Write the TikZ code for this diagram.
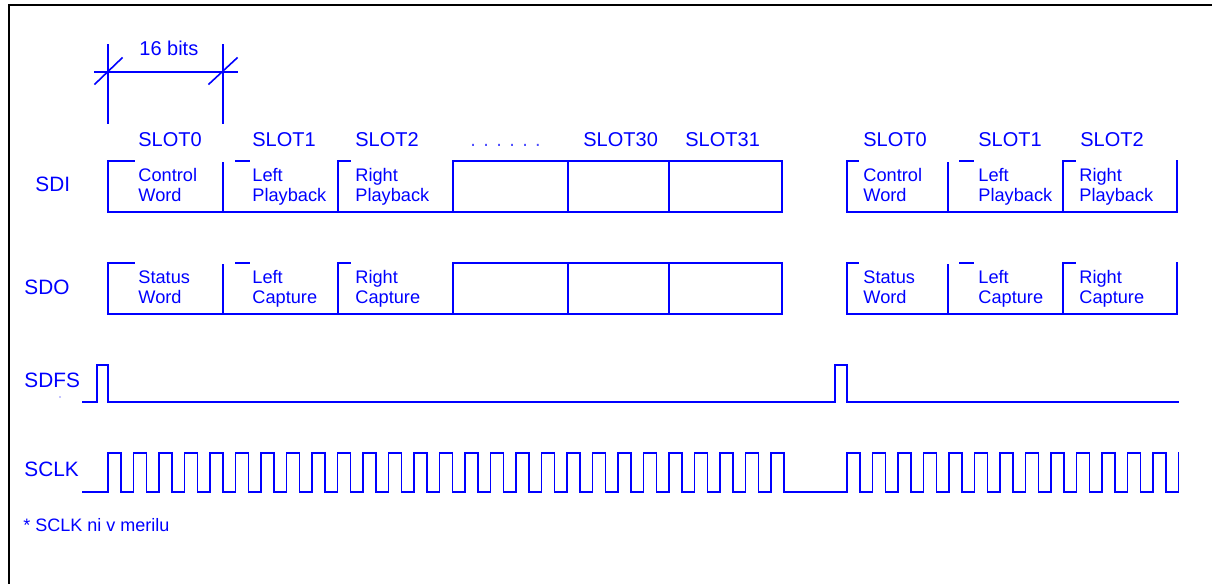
\documentclass[tikz,border=0pt]{standalone}
\usepackage{fontspec}
\setmainfont{Liberation Sans}
\definecolor{sig}{RGB}{0,0,255}
\begin{document}
\begin{tikzpicture}[x=0.5pt,y=-0.5pt,
  wire/.style={draw=sig, line width=0.8pt, line cap=rect},
  frame/.style={draw=black, line width=1pt},
  txt/.style={text=sig, inner sep=0pt, anchor=base west},
  rowlbl/.style={txt, font=\fontsize{10.4}{12}\selectfont},
  slotlbl/.style={txt, font=\fontsize{10}{12}\selectfont},
  boxtxt/.style={txt, font=\fontsize{9.1}{11}\selectfont},
  note/.style={txt, font=\fontsize{9}{11}\selectfont}]
\useasboundingbox (0,0) rectangle (1212,584);
% frame
\draw[frame] (9,584) -- (9,5) -- (1212,5);
% dimension 16 bits
\coordinate (dl) at (108,45);
\coordinate (dr) at (223,45);
\draw[wire] (dl) -- (108,123);
\draw[wire] (dr) -- (223,123);
\draw[wire] (95,72) -- (237,72);
\draw[wire] (95,84) -- (122,58);
\draw[wire] (209,84) -- (237,58);
\node[slotlbl] (bits) at (139,55) {16 bits};
% slot labels
\node[slotlbl] (s0) at (138,146) {SLOT0};
\node[slotlbl] (s1) at (252,146) {SLOT1};
\node[slotlbl] (s2) at (355,146) {SLOT2};
\node[slotlbl, text=sig!70] (sd) at (470,146) {. . . . . .};
\node[slotlbl] (s30) at (583,146) {SLOT30};
\node[slotlbl] (s31) at (685,146) {SLOT31};
\node[slotlbl] (t0) at (863,146) {SLOT0};
\node[slotlbl] (t1) at (978,146) {SLOT1};
\node[slotlbl] (t2) at (1080,146) {SLOT2};
% row labels
\node[rowlbl] (sdi) at (35,191) {SDI};
\node[rowlbl] (sdo) at (24,294) {SDO};
\node[rowlbl] (sdfs) at (24,387) {SDFS};
\node[rowlbl] (sclk) at (24,476) {SCLK};
\fill[sig] (60,397) circle (0.7);
\node[note] (fn) at (23,531) {* SCLK ni v merilu};
% frames SDI (top 161, bottom 212) and SDO (+102)
\foreach \dy/\nm in {0/i,102/o}{
  \begin{scope}[yshift=-\dy*0.5pt]
  \draw[wire] (134,161) -- (108,161) -- (108,212) -- (782,212);
  \draw[wire] (223,163) -- (223,212);
  \draw[wire] (236,161) -- (249,161);
  \draw[wire] (350,161) -- (338,161) -- (338,212);
  \draw[wire] (453,212) -- (453,161) -- (782,161) -- (782,212);
  \draw[wire] (568,161) -- (568,212);
  \draw[wire] (669,161) -- (669,212);
  \draw[wire] (858,161) -- (847,161) -- (847,212) -- (1177,212) -- (1177,161);
  \draw[wire] (948,163) -- (948,212);
  \draw[wire] (960,161) -- (973,161);
  \draw[wire] (1075,161) -- (1063,161) -- (1063,212);
  \end{scope}
}
% box texts SDI
\node[boxtxt] (a0) at (138,181) {Control};
\node[boxtxt] (a0b) at (138,201) {Word};
\node[boxtxt] (a1) at (252,181) {Left};
\node[boxtxt] (a1b) at (252,201) {Playback};
\node[boxtxt] (a2) at (355,181) {Right};
\node[boxtxt] (a2b) at (355,201) {Playback};
\node[boxtxt] (b0) at (863,181) {Control};
\node[boxtxt] (b0b) at (863,201) {Word};
\node[boxtxt] (b1) at (978,181) {Left};
\node[boxtxt] (b1b) at (978,201) {Playback};
\node[boxtxt] (b2) at (1079,181) {Right};
\node[boxtxt] (b2b) at (1079,201) {Playback};
% box texts SDO
\node[boxtxt] (c0) at (138,283) {Status};
\node[boxtxt] (c0b) at (138,303) {Word};
\node[boxtxt] (c1) at (252,283) {Left};
\node[boxtxt] (c1b) at (252,303) {Capture};
\node[boxtxt] (c2) at (355,283) {Right};
\node[boxtxt] (c2b) at (355,303) {Capture};
\node[boxtxt] (d0) at (863,283) {Status};
\node[boxtxt] (d0b) at (863,303) {Word};
\node[boxtxt] (d1) at (978,283) {Left};
\node[boxtxt] (d1b) at (978,303) {Capture};
\node[boxtxt] (d2) at (1079,283) {Right};
\node[boxtxt] (d2b) at (1079,303) {Capture};
% SDFS
\draw[wire] (83,402) -- (97,402) -- (97,365) -- (108,365) -- (108,402)
  -- (835,402) -- (835,365) -- (847,365) -- (847,402) -- (1178,402);
% SCLK
\draw[wire] (83,492)
  \foreach \k in {0,...,26} { -- ({108+25.5*\k},492) -- ({108+25.5*\k},453)
     -- ({121+25.5*\k},453) -- ({121+25.5*\k},492) }
  -- (847,492)
  \foreach \k in {0,...,12} { -- ({847+25.5*\k},492) -- ({847+25.5*\k},453)
     -- ({860+25.5*\k},453) -- ({860+25.5*\k},492) }
  -- (1178.5,492) -- (1178.5,453);
\end{tikzpicture}
\end{document}
